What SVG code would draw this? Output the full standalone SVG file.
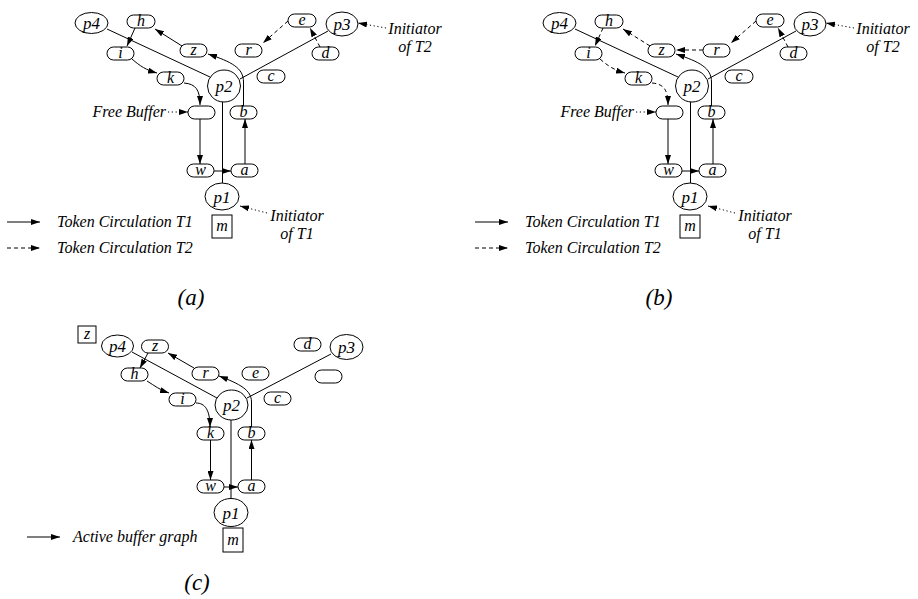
<svg xmlns="http://www.w3.org/2000/svg" width="918" height="599" viewBox="0 0 918 599">
<defs>
<marker id="ah" viewBox="0 0 9 6" refX="9" refY="3" markerWidth="9" markerHeight="6" markerUnits="userSpaceOnUse" orient="auto"><path d="M0,0 L9,3 L0,6 z" fill="black"/></marker>
<style>
.n{fill:white;stroke:black;stroke-width:1}
.t{font-family:"Liberation Serif","Times New Roman","DejaVu Serif",serif;font-style:italic;font-size:16px;text-anchor:middle;fill:black}
.pt{font-size:17px}
.s{text-anchor:start}
.en{text-anchor:end}
.cap{font-size:23px}
.l{fill:none;stroke:black;stroke-width:1}
.ar{marker-end:url(#ah)}
.da{stroke-dasharray:4 3}
.dt{stroke-dasharray:1.2 2.6}
</style>
</defs>
<rect width="918" height="599" fill="white"/>

<!-- Panel (a) connectors -->
<g id="connectors-a">
<path class="l" d="M107,29 L210,77"/>
<path class="l" d="M328,31 L240,79"/>
<path class="l" d="M222.5,102 L222.5,183"/>
<path class="l ar" d="M243.5,106 L243.5,82 C243.5,68 232,62 208,54"/>
<path class="l ar" d="M182,46 L155,29"/>
<path class="l ar" d="M135,28 L127,46"/>
<path class="l ar" d="M132,59 C140,66 146,70 157,73"/>
<path class="l ar" d="M184,83 C196,84 200,90 200,105"/>
<path class="l ar" d="M200,119 L200,164"/>
<path class="l ar" d="M214,171 L231,171"/>
<path class="l ar" d="M245,164 L245,119"/>
<path class="l ar da" d="M288,21 L263,43"/>
<path class="l ar da" d="M320,47 L310,28"/>
<path class="l ar dt" d="M168,112 L188,112"/>
<path class="l ar dt" d="M386,28 L358,23"/>
<path class="l ar dt" d="M267,213 L240,206"/>
<path class="l ar" d="M7,222 L40,222"/>
<path class="l ar da" d="M7,248 L40,248"/>
</g>

<!-- Panel (a) nodes -->
<g id="a-p4"><ellipse class="n" cx="91.5" cy="23" rx="16.5" ry="10.5"/><text class="t pt" x="91.5" y="29">p4</text></g>
<g id="a-h"><rect class="n" x="127" y="15" width="28" height="13" rx="6.5"/><text class="t" x="141" y="26">h</text></g>
<g id="a-e"><rect class="n" x="288" y="14" width="28" height="13" rx="6.5"/><text class="t" x="302" y="25">e</text></g>
<g id="a-p3"><ellipse class="n" cx="342" cy="24" rx="16" ry="12"/><text class="t pt" x="342" y="30">p3</text></g>
<g id="a-i"><rect class="n" x="107" y="47" width="27" height="13" rx="6.5"/><text class="t" x="120.5" y="58">i</text></g>
<g id="a-z"><rect class="n" x="180" y="44" width="27" height="13" rx="6.5"/><text class="t" x="193.5" y="55">z</text></g>
<g id="a-r"><rect class="n" x="235" y="44" width="27" height="13" rx="6.5"/><text class="t" x="248.5" y="55">r</text></g>
<g id="a-d"><rect class="n" x="312" y="47" width="27" height="13" rx="6.5"/><text class="t" x="325.5" y="58">d</text></g>
<g id="a-k"><rect class="n" x="157" y="72" width="27" height="13" rx="6.5"/><text class="t" x="170.5" y="83">k</text></g>
<g id="a-c"><rect class="n" x="257" y="70" width="28" height="13" rx="6.5"/><text class="t" x="271" y="81">c</text></g>
<g id="a-p2"><ellipse class="n" cx="224" cy="86" rx="16.5" ry="16"/><text class="t pt" x="224" y="92">p2</text></g>
<g id="a-free"><rect class="n" x="188" y="106" width="27" height="13" rx="6.5"/></g>
<g id="a-b"><rect class="n" x="230" y="106" width="27" height="13" rx="6.5"/><text class="t" x="243.5" y="117">b</text></g>
<g id="a-w"><rect class="n" x="187" y="164" width="27" height="13" rx="6.5"/><text class="t" x="200.5" y="175">w</text></g>
<g id="a-a"><rect class="n" x="231" y="164" width="27" height="13" rx="6.5"/><text class="t" x="244.5" y="175">a</text></g>
<g id="a-p1"><ellipse class="n" cx="222" cy="196.5" rx="17" ry="13.5"/><text class="t pt" x="222" y="202.5">p1</text></g>
<g id="a-m"><rect class="n" x="212" y="215" width="20" height="23"/><text class="t" x="222" y="231">m</text></g>
<g id="a-labels">
<text class="t en" x="166" y="117">Free Buffer</text>
<text class="t" x="415" y="34">Initiator</text>
<text class="t" x="415" y="52">of T2</text>
<text class="t" x="297" y="221">Initiator</text>
<text class="t" x="297" y="239">of T1</text>
<text class="t s" x="57" y="227">Token Circulation T1</text>
<text class="t s" x="57" y="253">Token Circulation T2</text>
<text class="t cap" x="191" y="305">(a)</text>
</g>

<!-- Panel (b) connectors -->
<g id="connectors-b" transform="translate(468,0)">
<path class="l" d="M107,29 L210,77"/>
<path class="l" d="M328,31 L240,79"/>
<path class="l" d="M222.5,102 L222.5,183"/>
<path class="l ar" d="M243.5,106 L243.5,82 C243.5,68 232,62 208,54"/>
<path class="l ar da" d="M235,50 L208,50"/>
<path class="l ar da" d="M182,46 L155,29"/>
<path class="l ar da" d="M135,28 L127,46"/>
<path class="l ar da" d="M132,59 C140,66 146,70 157,73"/>
<path class="l ar da" d="M184,83 C196,84 200,90 200,105"/>
<path class="l ar" d="M200,119 L200,164"/>
<path class="l ar" d="M214,171 L231,171"/>
<path class="l ar" d="M245,164 L245,119"/>
<path class="l ar da" d="M288,21 L263,43"/>
<path class="l ar da" d="M320,47 L310,28"/>
<path class="l ar dt" d="M168,112 L188,112"/>
<path class="l ar dt" d="M386,28 L358,23"/>
<path class="l ar dt" d="M267,213 L240,206"/>
<path class="l ar" d="M7,222 L40,222"/>
<path class="l ar da" d="M7,248 L40,248"/>
</g>

<!-- Panel (b) nodes -->
<g transform="translate(468,0)">
<g id="b-p4"><ellipse class="n" cx="91.5" cy="23" rx="16.5" ry="10.5"/><text class="t pt" x="91.5" y="29">p4</text></g>
<g id="b-h"><rect class="n" x="127" y="15" width="28" height="13" rx="6.5"/><text class="t" x="141" y="26">h</text></g>
<g id="b-e"><rect class="n" x="288" y="14" width="28" height="13" rx="6.5"/><text class="t" x="302" y="25">e</text></g>
<g id="b-p3"><ellipse class="n" cx="342" cy="24" rx="16" ry="12"/><text class="t pt" x="342" y="30">p3</text></g>
<g id="b-i"><rect class="n" x="107" y="47" width="27" height="13" rx="6.5"/><text class="t" x="120.5" y="58">i</text></g>
<g id="b-z"><rect class="n" x="180" y="44" width="27" height="13" rx="6.5"/><text class="t" x="193.5" y="55">z</text></g>
<g id="b-r"><rect class="n" x="235" y="44" width="27" height="13" rx="6.5"/><text class="t" x="248.5" y="55">r</text></g>
<g id="b-d"><rect class="n" x="312" y="47" width="27" height="13" rx="6.5"/><text class="t" x="325.5" y="58">d</text></g>
<g id="b-k"><rect class="n" x="157" y="72" width="27" height="13" rx="6.5"/><text class="t" x="170.5" y="83">k</text></g>
<g id="b-c"><rect class="n" x="257" y="70" width="28" height="13" rx="6.5"/><text class="t" x="271" y="81">c</text></g>
<g id="b-p2"><ellipse class="n" cx="224" cy="86" rx="16.5" ry="16"/><text class="t pt" x="224" y="92">p2</text></g>
<g id="b-free"><rect class="n" x="188" y="106" width="27" height="13" rx="6.5"/></g>
<g id="b-b"><rect class="n" x="230" y="106" width="27" height="13" rx="6.5"/><text class="t" x="243.5" y="117">b</text></g>
<g id="b-w"><rect class="n" x="187" y="164" width="27" height="13" rx="6.5"/><text class="t" x="200.5" y="175">w</text></g>
<g id="b-a"><rect class="n" x="231" y="164" width="27" height="13" rx="6.5"/><text class="t" x="244.5" y="175">a</text></g>
<g id="b-p1"><ellipse class="n" cx="222" cy="196.5" rx="17" ry="13.5"/><text class="t pt" x="222" y="202.5">p1</text></g>
<g id="b-m"><rect class="n" x="212" y="215" width="20" height="23"/><text class="t" x="222" y="231">m</text></g>
<g id="b-labels">
<text class="t en" x="166" y="117">Free Buffer</text>
<text class="t" x="415" y="34">Initiator</text>
<text class="t" x="415" y="52">of T2</text>
<text class="t" x="297" y="221">Initiator</text>
<text class="t" x="297" y="239">of T1</text>
<text class="t s" x="57" y="227">Token Circulation T1</text>
<text class="t s" x="57" y="253">Token Circulation T2</text>
<text class="t cap" x="191" y="305">(b)</text>
</g>
</g>

<!-- Panel (c) connectors -->
<g id="connectors-c">
<path class="l" d="M132,352 L217,398"/>
<path class="l" d="M331,354 L247,398"/>
<path class="l" d="M231,420 L231,498.5"/>
<path class="l ar" d="M148,353 L140,368"/>
<path class="l ar" d="M194,368 L168,353"/>
<path class="l ar" d="M147,381 C155,386 160,390 169,393"/>
<path class="l ar" d="M196,403 C205,403 210,410 210,427"/>
<path class="l ar" d="M251.5,427 L251.5,402 C251.5,390 240,384 219,376"/>
<path class="l ar" d="M210.5,440 L210.5,480"/>
<path class="l ar" d="M224,487 L238,487"/>
<path class="l ar" d="M251.5,480 L251.5,440"/>
<path class="l ar" d="M27,537 L60,537"/>
</g>

<!-- Panel (c) nodes -->
<g id="c-zsq"><rect class="n" x="78" y="326" width="18" height="17"/><text class="t" x="87" y="339">z</text></g>
<g id="c-p4"><ellipse class="n" cx="117.5" cy="346" rx="16" ry="11"/><text class="t pt" x="117.5" y="352">p4</text></g>
<g id="c-z"><rect class="n" x="141.5" y="340" width="27" height="13" rx="6.5"/><text class="t" x="155" y="351">z</text></g>
<g id="c-h"><rect class="n" x="121" y="368" width="27" height="13" rx="6.5"/><text class="t" x="134.5" y="379">h</text></g>
<g id="c-r"><rect class="n" x="192" y="367" width="27" height="13" rx="6.5"/><text class="t" x="205.5" y="378">r</text></g>
<g id="c-e"><rect class="n" x="242" y="367" width="27" height="13" rx="6.5"/><text class="t" x="255.5" y="378">e</text></g>
<g id="c-i"><rect class="n" x="169" y="393" width="27" height="13" rx="6.5"/><text class="t" x="182.5" y="404">i</text></g>
<g id="c-p2"><ellipse class="n" cx="231.5" cy="405" rx="16.5" ry="15"/><text class="t pt" x="231.5" y="411">p2</text></g>
<g id="c-k"><rect class="n" x="197" y="427" width="27" height="13" rx="6.5"/><text class="t" x="210.5" y="438">k</text></g>
<g id="c-b"><rect class="n" x="238" y="427" width="27" height="13" rx="6.5"/><text class="t" x="251.5" y="438">b</text></g>
<g id="c-d"><rect class="n" x="294" y="338" width="27" height="13" rx="6.5"/><text class="t" x="307.5" y="349">d</text></g>
<g id="c-p3"><ellipse class="n" cx="346.5" cy="347" rx="16.5" ry="12.5"/><text class="t pt" x="346.5" y="353">p3</text></g>
<g id="c-empty"><rect class="n" x="315" y="370" width="27" height="13" rx="6.5"/></g>
<g id="c-c"><rect class="n" x="264" y="392" width="27" height="13" rx="6.5"/><text class="t" x="277.5" y="403">c</text></g>
<g id="c-w"><rect class="n" x="197" y="480" width="27" height="13" rx="6.5"/><text class="t" x="210.5" y="491">w</text></g>
<g id="c-a"><rect class="n" x="238" y="480" width="27" height="13" rx="6.5"/><text class="t" x="251.5" y="491">a</text></g>
<g id="c-p1"><ellipse class="n" cx="231" cy="512.5" rx="17" ry="14"/><text class="t pt" x="231" y="518.5">p1</text></g>
<g id="c-m"><rect class="n" x="223" y="528" width="20" height="24"/><text class="t" x="233" y="545">m</text></g>
<g id="c-labels">
<text class="t s" x="73" y="542">Active buffer graph</text>
<text class="t cap" x="197" y="590">(c)</text>
</g>
</svg>
